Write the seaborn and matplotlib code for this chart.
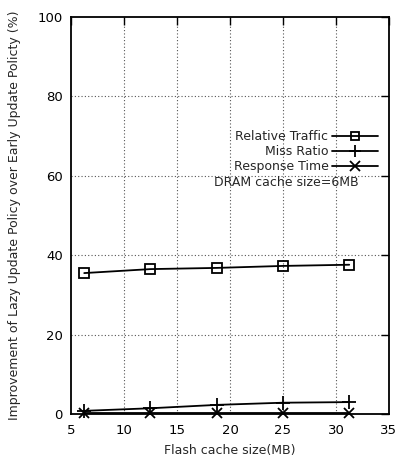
import matplotlib
matplotlib.use("Agg")
import matplotlib.pyplot as plt
import seaborn as sns
import pandas as pd

flash_mb = [6.25, 12.5, 18.75, 25, 31.25]
relative_traffic = [35.5, 36.5, 36.8, 37.3, 37.6]
miss_ratio = [0.8, 1.45, 2.3, 2.85, 3.0]
response_time = [0.2, 0.2, 0.2, 0.2, 0.2]
series_names = ["Relative Traffic", "Miss Ratio", "Response Time"]

sns.set_theme(style="white")
plt.rcParams['font.family'] = ['DejaVu Sans']

fig = plt.figure(figsize=(4.01, 4.59), dpi=100)
ax = fig.add_axes([0.177, 0.098, 0.793, 0.865])

styles = [dict(marker='s', markersize=7, mfc='none'),
          dict(marker='+', markersize=10),
          dict(marker='x', markersize=7.5)]
for name, vals, st in zip(series_names, [relative_traffic, miss_ratio, response_time], styles):
    df = pd.DataFrame({"x": flash_mb, "y": vals})
    sns.lineplot(data=df, x="x", y="y", ax=ax, color="black", lw=1.3, label=name,
                 mec='black', mew=1.3, clip_on=False, zorder=3, **st)

ax.set_xlim(5, 35)
ax.set_ylim(0, 100)
ax.set_xticks([5, 10, 15, 20, 25, 30, 35])
ax.set_yticks([0, 20, 40, 60, 80, 100])
ax.set_xlabel("Flash cache size(MB)", fontsize=9, labelpad=5)
ax.set_ylabel("Improvement of Lazy Update Policy over Early Update Policty (%)", fontsize=9, labelpad=12)
ax.tick_params(direction='in', length=5.5, width=1, top=True, right=True, labelsize=9.5, colors='black', pad=6)
ax.tick_params(axis='x', pad=7)
for s in ax.spines.values():
    s.set_color('black'); s.set_linewidth(1.3)
for v in [10, 15, 20, 25, 30]:
    ax.axvline(v, color='#555555', lw=0.8, ls=(0, (1, 2)), zorder=0)
for v in [20, 40, 60, 80]:
    ax.axhline(v, color='#555555', lw=0.8, ls=(0, (1, 2)), zorder=0)

leg = ax.legend(loc='upper right', bbox_to_anchor=(0.965, 0.715), frameon=False, markerfirst=False,
                fontsize=9, handlelength=3.7, labelspacing=0.15, handletextpad=0.25, borderaxespad=0,
                borderpad=0, markerscale=0.9)
for t in leg.get_texts():
    t.set_ha('right')
ax.text(0.45, 0.582, "DRAM cache size=6MB", transform=ax.transAxes, fontsize=9, ha='left', va='center')

fig.savefig("out.png", dpi=100)
